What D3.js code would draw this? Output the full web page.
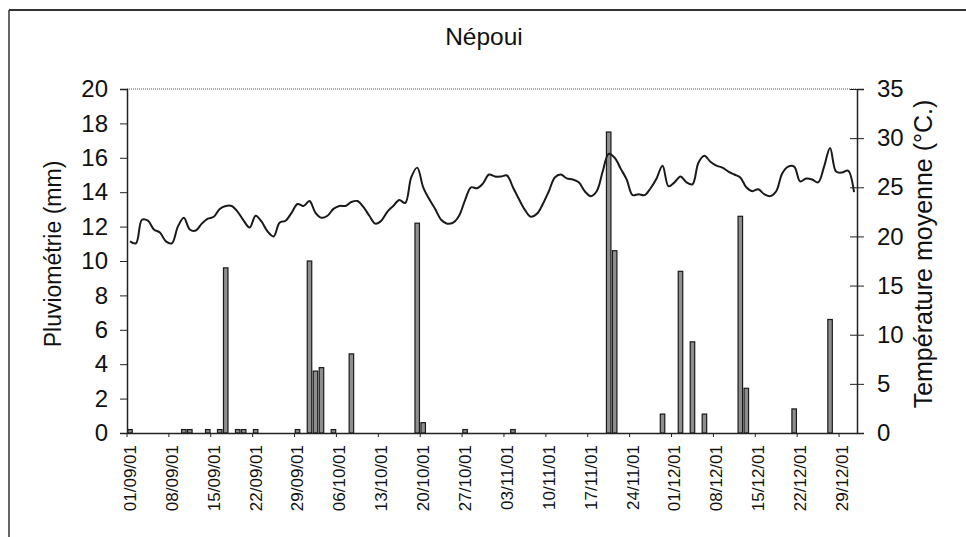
<!DOCTYPE html>
<html>
<head>
<meta charset="utf-8">
<script src="https://cdn.jsdelivr.net/npm/d3@7"></script>
<style>
  body { margin: 0; background: #fff; }
  svg { font-family: Arial, "Liberation Sans", sans-serif; }
</style>
</head>
<body>
<svg id="chart" width="966" height="537"></svg>
<script>
// days from 01/09/01 to 31/12/01
var days = d3.timeDay.range(new Date(2001, 8, 1), new Date(2002, 0, 1));

var tickLabels = ["01/09/01", "08/09/01", "15/09/01", "22/09/01", "29/09/01", "06/10/01",
  "13/10/01", "20/10/01", "27/10/01", "03/11/01", "10/11/01", "17/11/01", "24/11/01",
  "01/12/01", "08/12/01", "15/12/01", "22/12/01", "29/12/01"];

// pluviometrie (mm), one value per day
var rain = [
  0.2, 0, 0, 0, 0, 0, 0, 0, 0, 0.2,
  0.2, 0, 0, 0.2, 0, 0.2, 9.6, 0, 0.2, 0.2,
  0, 0.2, 0, 0, 0, 0, 0, 0, 0.2, 0,
  10.0, 3.6, 3.8, 0, 0.2, 0, 0, 4.6, 0, 0,
  0, 0, 0, 0, 0, 0, 0, 0, 12.2, 0.6,
  0, 0, 0, 0, 0, 0, 0.2, 0, 0, 0,
  0, 0, 0, 0, 0.2, 0, 0, 0, 0, 0,
  0, 0, 0, 0, 0, 0, 0, 0, 0, 0,
  17.5, 10.6, 0, 0, 0, 0, 0, 0, 0, 1.1,
  0, 0, 9.4, 0, 5.3, 0, 1.1, 0, 0, 0,
  0, 0, 12.6, 2.6, 0, 0, 0, 0, 0, 0,
  0, 1.4, 0, 0, 0, 0, 0, 6.6, 0, 0,
  0, 0
];

// temperature moyenne (°C), one value per day
var temp = [
  19.5, 19.3, 21.7, 21.6, 20.7, 20.4, 19.5, 19.3, 21.0, 21.9,
  20.7, 20.6, 21.3, 21.8, 22.0, 22.8, 23.1, 23.1, 22.5, 21.6,
  20.9, 22.1, 21.5, 20.5, 20.0, 21.4, 21.6, 22.4, 23.3, 23.1,
  23.6, 22.4, 21.9, 22.1, 22.8, 23.1, 23.1, 23.5, 23.6, 23.0,
  22.1, 21.3, 21.6, 22.5, 23.1, 23.7, 23.4, 26.0, 27.0, 25.0,
  23.8, 22.8, 21.7, 21.3, 21.4, 22.1, 23.7, 25.0, 24.9, 25.4,
  26.3, 26.1, 26.1, 26.2, 25.0, 23.8, 22.7, 22.0, 22.3, 23.3,
  24.6, 26.0, 26.3, 25.9, 25.8, 25.5, 24.6, 24.1, 24.6, 26.6,
  28.4, 28.0, 26.9, 25.8, 24.2, 24.3, 24.2, 24.9, 25.9, 27.2,
  25.1, 25.5, 26.1, 25.5, 25.3, 27.5, 28.2, 27.6, 27.2, 27.0,
  26.6, 26.3, 26.0, 25.0, 24.6, 24.8, 24.3, 24.1, 24.6, 26.4,
  27.1, 27.1, 25.6, 25.9, 25.8, 25.5, 27.1, 29.0, 26.6, 26.5,
  26.7, 24.5
];

var fmt = d3.timeFormat("%d/%m/%y");

var plotL = 127, plotR = 857, plotT = 89, plotB = 433;

var svg = d3.select("#chart");

// frame of the scanned chart
svg.append("line").attr("x1", 9).attr("x2", 966).attr("y1", 10).attr("y2", 10)
  .attr("stroke", "#333").attr("stroke-width", 2);
svg.append("line").attr("x1", 9).attr("x2", 9).attr("y1", 10).attr("y2", 537)
  .attr("stroke", "#333").attr("stroke-width", 1.5);

var x = d3.scaleBand()
  .domain(days.map(fmt))
  .range([plotL, plotR]);

var yRain = d3.scaleLinear().domain([0, 20]).range([plotB, plotT]);
var yTemp = d3.scaleLinear().domain([0, 35]).range([plotB, plotT]);

// top border of plot area (dotted)
svg.append("line").attr("x1", plotL).attr("x2", plotR).attr("y1", plotT).attr("y2", plotT)
  .attr("stroke", "#555").attr("stroke-dasharray", "1,1");

// bars
svg.append("g")
  .selectAll("rect")
  .data(rain.map(function (v, i) { return {day: fmt(days[i]), v: v}; }).filter(function (d) { return d.v > 0; }))
  .enter()
  .append("rect")
  .attr("x", function (d) { return x(d.day) + x.bandwidth() / 2 - 2.25; })
  .attr("y", function (d) { return yRain(d.v); })
  .attr("width", 4.5)
  .attr("height", function (d) { return plotB - yRain(d.v); })
  .attr("fill", "#8e8e8e")
  .attr("stroke", "#1a1a1a")
  .attr("stroke-width", 1.2);

// temperature line
var line = d3.line()
  .x(function (d, i) { return x(fmt(days[i])) + x.bandwidth() / 2; })
  .y(function (d) { return yTemp(d); })
  .curve(d3.curveCatmullRom.alpha(0.5));

svg.append("path")
  .datum(temp)
  .attr("d", line)
  .attr("fill", "none")
  .attr("stroke", "#1a1a1a")
  .attr("stroke-width", 2);

// left axis
var gl = svg.append("g")
  .attr("transform", "translate(" + plotL + ",0)")
  .call(d3.axisLeft(yRain).tickValues(d3.range(0, 21, 2)).tickSize(7).tickPadding(12));
gl.selectAll("text").attr("font-size", 24).attr("fill", "#111");

// right axis
var gr = svg.append("g")
  .attr("transform", "translate(" + plotR + ",0)")
  .call(d3.axisRight(yTemp).tickValues(d3.range(0, 36, 5)).tickSize(7).tickPadding(13));
gr.selectAll(".tick line").attr("x1", -7);
gr.selectAll("text").attr("font-size", 24).attr("fill", "#111");

[gl, gr].forEach(function (g) {
  g.select(".domain").attr("stroke", "#222").attr("stroke-width", 1.5);
  g.selectAll(".tick line").attr("stroke", "#222");
});

// bottom axis
var gx = svg.append("g")
  .attr("transform", "translate(0," + plotB + ")")
  .call(d3.axisBottom(x).tickValues(tickLabels).tickSize(0).tickPadding(0));
gx.select(".domain").attr("stroke", "#222").attr("stroke-width", 1.5);
gx.selectAll(".tick line")
  .attr("x1", -x.bandwidth() / 2).attr("x2", -x.bandwidth() / 2)
  .attr("y2", 4).attr("stroke", "#222");
gx.selectAll("text")
  .attr("font-size", 17)
  .attr("fill", "#111")
  .attr("text-anchor", "end")
  .attr("transform", "translate(0,12) rotate(-90)")
  .attr("x", 0).attr("y", 0).attr("dy", "0.35em");

// titles
svg.append("text")
  .attr("x", 484).attr("y", 45)
  .attr("text-anchor", "middle").attr("font-size", 24.5).attr("fill", "#111")
  .text("Népoui");

svg.append("text")
  .attr("transform", "translate(61,254) rotate(-90)")
  .attr("text-anchor", "middle").attr("font-size", 23).attr("fill", "#111")
  .text("Pluviométrie (mm)");

svg.append("text")
  .attr("transform", "translate(932,254) rotate(-90)")
  .attr("text-anchor", "middle").attr("font-size", 25).attr("fill", "#111")
  .text("Température moyenne (°C.)");
</script>
</body>
</html>
